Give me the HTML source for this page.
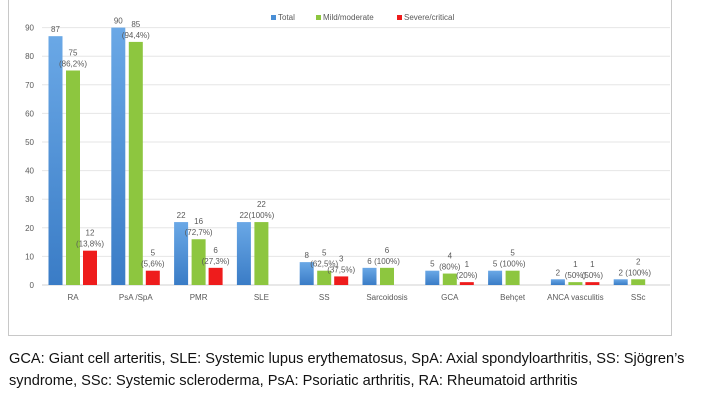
<!DOCTYPE html>
<html><head><meta charset="utf-8"><style>
body{margin:0;background:#fff;width:711px;height:400px;overflow:hidden;font-family:"Liberation Sans",sans-serif}
#frame{position:absolute;left:8px;top:-2px;width:662px;height:337px;border:1px solid #c8c8c8;border-top:none}
#cap{position:absolute;left:9px;top:348px;width:700px;font-size:14.6px;line-height:22px;color:#111}
svg{position:absolute;left:0;top:0}
</style></head><body>
<div id="frame"></div>
<svg id="chart" width="711" height="340"></svg>
<div id="cap">GCA: Giant cell arteritis, SLE: Systemic lupus erythematosus, SpA: Axial spondyloarthritis, SS: Sjögren’s syndrome, SSc: Systemic scleroderma, PsA: Psoriatic arthritis, RA: Rheumatoid arthritis</div>
<script>
const categories=["RA","PsA /SpA","PMR","SLE","SS","Sarcoidosis","GCA","Behçet","ANCA vasculitis","SSc"];
const totalValues=[87,90,22,22,8,6,5,5,2,2];
const mildValues=[75,85,16,22,5,6,4,5,1,2];
const severeValues=[12,5,6,null,3,null,1,null,1,null];
const mildPct=["(86,2%)","(94,4%)","(72,7%)","(100%)","(62,5%)","(100%)","(80%)","(100%)","(50%)","(100%)"];
const severePct=["(13,8%)","(5,6%)","(27,3%)","","(37,5%)","","(20%)","","(50%)",""];
const yTicks=[0,10,20,30,40,50,60,70,80,90];
const seriesNames=["Total","Mild/moderate","Severe/critical"];
const colors=["#4a8fd6","#8dc63f","#ee1c1c"];

const svg=document.getElementById('chart');
const NS="http://www.w3.org/2000/svg";
const y0=285,yScale=28.6/10;
const y=v=>y0-v*yScale;
const x=i=>73+i*62.8;
function mk(t,a,p){const e=document.createElementNS(NS,t);for(const k in a)e.setAttribute(k,a[k]);(p||svg).appendChild(e);return e;}
function txt(s,xx,yy,anchor){const e=mk('text',{x:xx,y:yy,'font-size':8,fill:'#595959','text-anchor':anchor||'middle','font-family':'Liberation Sans, sans-serif'});e.textContent=s;return e;}
const defs=mk('defs',{});
const g=mk('linearGradient',{id:'gb',x1:0,y1:0,x2:0,y2:1},defs);
mk('stop',{offset:0,'stop-color':'#6aa8e6'},g);mk('stop',{offset:1,'stop-color':'#3a7cc6'},g);

yTicks.forEach(t=>{
  const l=mk('line',{x1:42,x2:670,y1:y(t),y2:y(t),stroke:t===0?'#d0d0d0':'#e6e6e6','stroke-width':1});
  
  
  const tl=txt(String(t),34,y(t)+3,'end');
  
  
});
const bw=14;
const offs=[-17.5,0,17];
categories.forEach((c,i)=>{
  const cl=txt(c,x(i),300);
  
  
  [totalValues,mildValues,severeValues].forEach((arr,s)=>{
    const v=arr[i]; if(v===null||v===undefined) return;
    const cx=x(i)+offs[s];
    const r=mk('rect',{x:cx-bw/2,y:y(v),width:bw,height:v*yScale,fill:s===0?'url(#gb)':colors[s]});
    
    
    if(s===0){ txt(String(v),cx,y(v)-4); }
    else{
      const pct=s===1?mildPct[i]:severePct[i];
      txt(String(v),cx,y(v)-15);
      txt(pct,cx,y(v)-4);
    }
  });
});
const lx=[271,316,397];
seriesNames.forEach((n,s)=>{
  const r=mk('rect',{x:lx[s],y:15,width:5,height:5,fill:colors[s]});
  
  
  const t=txt(n,lx[s]+7,20,'start');
  
  
});
</script>
</body></html>
